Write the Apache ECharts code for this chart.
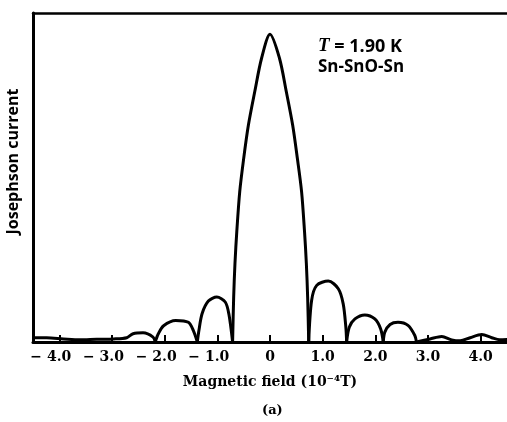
<!DOCTYPE html>
<html>
<head>
<meta charset="utf-8">
<title>Josephson current vs magnetic field</title>
<script src="https://cdn.jsdelivr.net/npm/echarts@6.0.0/dist/echarts.min.js"></script>
<style>
    html, body { margin: 0; padding: 0; background: #fff; }
    #chart { width: 507px; height: 422px; }
</style>
</head>
<body>
<div id="chart"></div>
<script>
// magnetic field, 10^-4 T
var fieldB = [
    -4.49, -4.24, -3.92, -3.61, -3.29, -2.97, -2.72, -2.60, -2.41, -2.22, -2.18,
    -2.12, -2.02, -1.79, -1.55, -1.455, -1.38,
    -1.35, -1.29, -1.17, -1.01, -0.85, -0.78, -0.71,
    -0.69, -0.665, -0.63, -0.575, -0.50, -0.41, -0.29, -0.16, 0,
    0.18, 0.31, 0.43, 0.52, 0.60, 0.655, 0.69, 0.715, 0.735,
    0.79, 0.887, 1.107, 1.297, 1.39, 1.44, 1.455,
    1.505, 1.613, 1.80, 1.99, 2.10, 2.15,
    2.18, 2.28, 2.43, 2.62, 2.75, 2.78,
    3.04, 3.26, 3.45, 3.61, 3.80, 4.02, 4.21, 4.36, 4.50
];
// Josephson current, relative to the central peak
var josephsonI = [
    0.014, 0.014, 0.010, 0.007, 0.009, 0.010, 0.014, 0.027, 0.030, 0.016, 0,
    0.027, 0.053, 0.070, 0.064, 0.037, 0,
    0.037, 0.092, 0.133, 0.146, 0.130, 0.090, 0,
    0.145, 0.256, 0.36, 0.488, 0.596, 0.705, 0.813, 0.922, 1.0,
    0.922, 0.813, 0.705, 0.596, 0.488, 0.36, 0.256, 0.145, 0,
    0.135, 0.184, 0.198, 0.173, 0.124, 0.048, 0,
    0.048, 0.075, 0.088, 0.075, 0.043, 0,
    0.032, 0.057, 0.064, 0.054, 0.021, 0,
    0.010, 0.018, 0.007, 0.004, 0.014, 0.024, 0.014, 0.007, 0.008
];
var tickValues = [-4, -3, -2, -1, 0, 1, 2, 3, 4];
var tickLabels = ['\u2212 4.0', '\u2212 3.0', '\u2212 2.0', '\u2212 1.0', '0', '1.0', '2.0', '3.0', '4.0'];

// split the trace at its zeros so every lobe meets the next in a sharp cusp
var segments = [];
var cur = [];
for (var i = 0; i < fieldB.length; i++) {
    var p = [fieldB[i], josephsonI[i]];
    cur.push(p);
    if (josephsonI[i] === 0 && cur.length > 1) {
        segments.push(cur);
        cur = [p];
    }
}
if (cur.length > 1) segments.push(cur);

var series = segments.map(function (seg) {
    return {
        type: 'line',
        data: seg,
        smooth: 0.3,
        symbol: 'none',
        silent: true,
        animation: false,
        lineStyle: { color: '#000', width: 3, cap: 'round', join: 'round' }
    };
});

var serif = 'DejaVu Serif';

var option = {
    backgroundColor: '#fff',
    title: {
        text: '(a)',
        left: 262,
        top: 404,
        padding: 0,
        textStyle: { fontFamily: serif, fontWeight: 'bold', fontSize: 13, color: '#000' }
    },
    grid: { left: 33, right: 0, top: 13, bottom: 80, outerBoundsMode: 'none' },
    xAxis: [{
        type: 'value',
        min: -4.5,
        max: 4.5,
        name: 'Magnetic field (10\u207b\u2074T)',
        nameLocation: 'middle',
        nameGap: 33,
        nameTextStyle: { fontFamily: serif, fontWeight: 'bold', fontSize: 14, color: '#000' },
        splitLine: { show: false },
        axisLine: { onZero: false, lineStyle: { color: '#000', width: 3 } },
        axisTick: { inside: true, length: 7, customValues: tickValues, lineStyle: { color: '#000', width: 2 } },
        axisLabel: {
            customValues: tickValues,
            margin: 8,
            fontFamily: serif,
            fontWeight: 'bold',
            fontSize: 14,
            color: '#000',
            formatter: function (v) {
                var s = tickLabels[tickValues.indexOf(v)];
                return v < 0 ? '{neg|' + s + '}' : s;
            },
            rich: {
                neg: { fontFamily: serif, fontWeight: 'bold', fontSize: 14, color: '#000', padding: [0, 17, 0, 0] }
            }
        }
    }, {
        type: 'value',
        position: 'top',
        min: -4.5,
        max: 4.5,
        splitLine: { show: false },
        axisLine: { show: true, onZero: false, lineStyle: { color: '#000', width: 2.5 } },
        axisTick: { show: false },
        axisLabel: { show: false }
    }],
    yAxis: {
        type: 'value',
        min: 0,
        max: 1.069,
        name: 'Josephson current',
        nameLocation: 'middle',
        nameGap: 12,
        nameTextStyle: {
            fontFamily: 'Open Sans', fontWeight: 'bold', fontSize: 16, color: '#000',
            padding: [0, 0, 0, 32]
        },
        splitLine: { show: false },
        axisLine: { show: true, onZero: false, lineStyle: { color: '#000', width: 3 } },
        axisTick: { show: false },
        axisLabel: { show: false }
    },
    graphic: [{
        type: 'text',
        left: 318,
        top: 37,
        style: {
            text: '{i|T}{r| = 1.90 K}',
            rich: {
                i: { fontFamily: 'Liberation Serif', fontStyle: 'italic', fontWeight: 'bold', fontSize: 19, fill: '#000' },
                r: { fontFamily: 'Open Sans', fontWeight: 'bold', fontSize: 18, fill: '#000' }
            }
        }
    }, {
        type: 'text',
        left: 318,
        top: 59,
        style: {
            text: 'Sn-SnO-Sn',
            font: 'bold 17px "Open Sans"',
            fill: '#000'
        }
    }],
    series: series
};

var chart = echarts.init(document.getElementById('chart'));
chart.setOption(option);
window.onresize = chart.resize;
</script>
</body>
</html>
